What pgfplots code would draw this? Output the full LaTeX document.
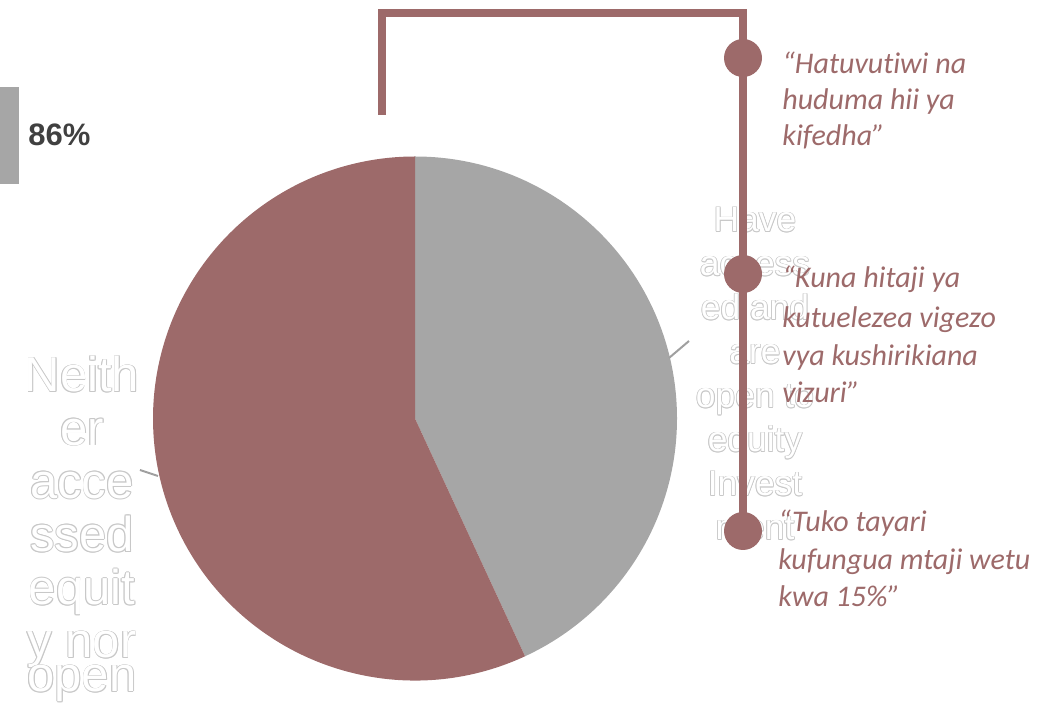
\documentclass[border=0pt]{standalone}
\usepackage{pgfplots}
\pgfplotsset{compat=1.18}
\usepackage{pgfplotstable}
\usepackage{fontspec}
\setmainfont{Liberation Sans}
\newfontfamily\quotefont{Carlito}[Ligatures={NoCommon}]

\definecolor{pieRed}{RGB}{157,106,106}
\definecolor{pieGrey}{RGB}{166,166,166}
\definecolor{lineGrey}{RGB}{160,160,160}
\definecolor{outGrey}{RGB}{200,200,200}
\definecolor{numGrey}{RGB}{64,64,64}

% shares in percent
\pgfplotstableread{
label share
access 43.1
neither 56.9
}\piedata
\pgfplotstablegetelem{0}{share}\of\piedata
\pgfmathsetmacro\endA{90-3.6*\pgfplotsretval}

% white text with a thin grey outline, pixel coords
\newcommand\olabel[3]{%
  \foreach \dx/\dy in {-0.4/0,0.4/0,0/-0.4,0/0.4,-0.3/-0.3,0.3/0.3,-0.3/0.3,0.3/-0.3}
    \node[text=outGrey,anchor=base] at ([xshift=\dx pt,yshift=\dy pt]#1,#2) {#3};
  \node[text=white,anchor=base] at (#1,#2) {#3};}

\newcommand\qline[3]{\node[anchor=base west] at (#1,#2) {#3};}

\begin{document}
\begin{tikzpicture}
\begin{axis}[
    width=527.5pt, height=355pt, scale only axis,
    xmin=0, xmax=1055, ymin=0, ymax=710, y dir=reverse,
    hide axis, clip=false]
  \fill[pieGrey] (axis cs:415,418.5) -- ++(90:131pt)
    arc[start angle=90, end angle=\endA, radius=131pt] -- cycle;
  \fill[pieRed] (axis cs:415,418.5) -- ++(\endA:131pt)
    arc[start angle=\endA, end angle=-270, radius=131pt] -- cycle;
\end{axis}

\begin{scope}[x=0.5pt, y=-0.5pt, shift={(0,355pt)}]
  % leader lines
  \draw[lineGrey, line width=1pt] (669,358) -- (689,341);
  \draw[lineGrey, line width=1pt] (140,470) -- (158,476);

  % slice labels
  \begin{scope}[every node/.style={font=\fontsize{17.7pt}{22pt}\selectfont, inner sep=0pt}]
    \foreach \t [count=\i from 0] in {Have,access,ed and,are,open to,equity,Invest,ment}
      {\olabel{755}{232+44*\i}{\t}}
  \end{scope}
  \begin{scope}[every node/.style={font=\fontsize{24.5pt}{26pt}\selectfont, inner sep=0pt}]
    \foreach \t [count=\i from 0] in {Neith,er,acce,ssed,equit,y nor}
      {\olabel{82}{392+53.2*\i}{\t}}
    \olabel{82}{692}{open}
  \end{scope}

  % 86% marker
  \fill[pieGrey] (0,87) rectangle (19,184);
  \node[anchor=base west, inner sep=0pt, text=numGrey,
        font=\bfseries\fontsize{15.5pt}{18pt}\selectfont] at (28,146) {86\%};

  % timeline
  \draw[pieRed, line width=4pt, line join=miter] (382,115) -- (382,13) -- (743,13) -- (743,530);
  \foreach \yy in {58,274,531} \fill[pieRed] (743,\yy) circle[radius=9.5pt];

  % quotes
  \begin{scope}[every node/.style={text=pieRed, inner sep=0pt,
      font=\quotefont\itshape\fontsize{15pt}{18pt}\selectfont}]
    \qline{782}{74}{“Hatuvutiwi na}
    \qline{782}{110}{huduma hii ya}
    \qline{782}{146}{kifedha”}
    \qline{782}{288}{“Kuna hitaji ya}
    \qline{782}{328}{kutuelezea vigezo}
    \qline{782}{366}{vya kushirikiana}
    \qline{782}{403}{vizuri”}
    \qline{778}{532}{“Tuko tayari}
    \qline{778}{570}{kufungua mtaji wetu}
    \qline{778}{607}{kwa 15\%”}
  \end{scope}
\end{scope}
\pgfresetboundingbox
\useasboundingbox (0,0) rectangle (527.5pt,355pt);
\end{tikzpicture}
\end{document}
